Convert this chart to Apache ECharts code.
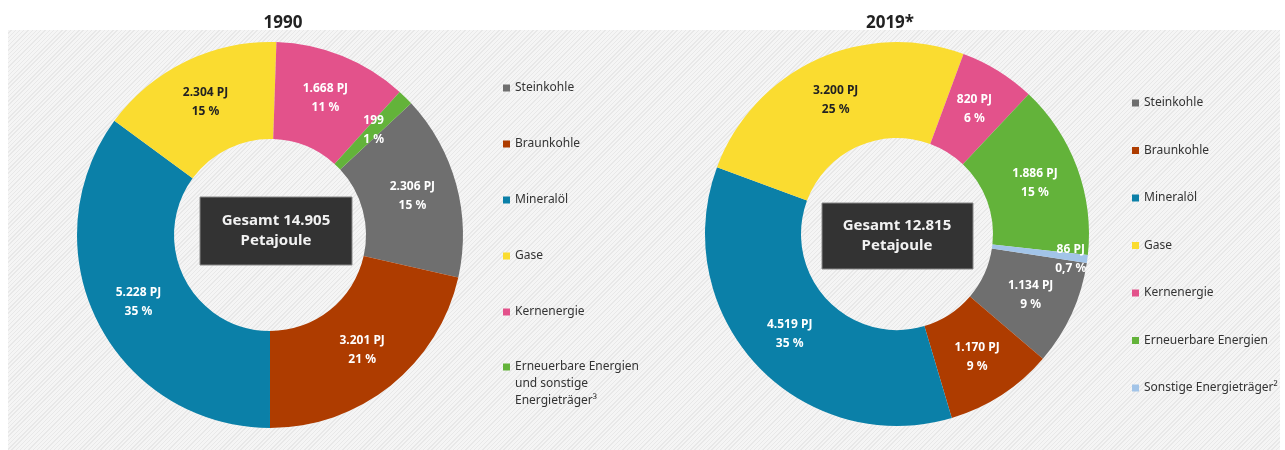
<!DOCTYPE html>
<html>
<head>
<meta charset="utf-8">
<script src="https://cdn.jsdelivr.net/npm/echarts@6/dist/echarts.min.js"></script>
<style>
  html, body { margin: 0; padding: 0; background: #fff; }
  #bg {
    position: absolute; left: 8px; top: 30px; width: 1272px; height: 420px;
    background: repeating-linear-gradient(135deg, #f5f5f5 0px, #f5f5f5 2px, #e8e8e8 2px, #e8e8e8 3px);
  }
  #main { position: absolute; left: 0; top: 0; width: 1285px; height: 450px; }
</style>
</head>
<body>
<div id="bg"></div>
<div id="main"></div>
<script>
// 1990
var names1990 = ["Steinkohle", "Braunkohle", "Mineralöl", "Gase", "Kernenergie",
  "Erneuerbare Energien\nund sonstige\nEnergieträger³"];
var values1990 = [2306, 3201, 5228, 2304, 1668, 199];
var total1990 = "14.905";

// 2019
var names2019 = ["Steinkohle", "Braunkohle", "Mineralöl", "Gase", "Kernenergie",
  "Erneuerbare Energien", "Sonstige Energieträger²"];
var values2019 = [1134, 1170, 4519, 3200, 820, 1886, 86];
var total2019 = "12.815";

var colors = {
  "Steinkohle": "#6f6f6f",
  "Braunkohle": "#ae3c00",
  "Mineralöl": "#0b80a8",
  "Gase": "#fadc30",
  "Kernenergie": "#e3528b",
  "Erneuerbare Energien\nund sonstige\nEnergieträger³": "#63b33a",
  "Erneuerbare Energien": "#63b33a",
  "Sonstige Energieträger²": "#a2c4e8"
};

var font = "'Noto Sans', sans-serif";

function fmtNum(v) {
  return String(v).replace(/\B(?=(\d{3})+(?!\d))/g, ".");
}
function fmtPct(p) {
  if (p < 1) return p.toFixed(1).replace(".", ",") + " %";
  return Math.round(p) + " %";
}

function buildData(names, values, extra) {
  return names.map(function (n, i) {
    var d = {
      name: n,
      value: values[i],
      itemStyle: { color: colors[n] },
      label: { color: n === "Gase" ? "#222" : "#fff" }
    };
    if (extra && extra[i]) Object.assign(d.label, extra[i]);
    return d;
  });
}

function labelFmt(noUnit) {
  return function (p) {
    var unit = noUnit.indexOf(p.dataIndex) >= 0 ? "" : " PJ";
    return fmtNum(p.value) + unit + "\n" + fmtPct(p.percent);
  };
}

var chart = echarts.init(document.getElementById("main"));

var labelBase = {
  show: true,
  position: "inside",
  fontFamily: font,
  fontWeight: "bold",
  fontSize: 12,
  lineHeight: 19
};

var legendBase = {
  orient: "vertical",
  padding: 0,
  itemWidth: 7,
  itemHeight: 7,
  icon: "rect",
  height: 400,
  textStyle: { fontFamily: font, fontSize: 12, color: "#333", lineHeight: 17 },
  selectedMode: false
};

chart.setOption({
  animation: false,
  title: [
    { text: "1990", left: 278, top: 10, textAlign: "center",
      textStyle: { fontFamily: font, fontSize: 17, fontWeight: "bold", color: "#222" } },
    { text: "2019*", left: 885, top: 10, textAlign: "center",
      textStyle: { fontFamily: font, fontSize: 17, fontWeight: "bold", color: "#222" } }
  ],
  legend: [
    Object.assign({}, legendBase, {
      left: 503, top: 79.5, itemGap: 39,
      data: names1990.slice(0, 5)
    }),
    // multi-line entry: two blank lines on top keep the icon beside the first line
    Object.assign({}, legendBase, {
      left: 503, top: 324.5,
      data: names1990.slice(5),
      formatter: function (n) { return "\n\n" + n; }
    }),
    Object.assign({}, legendBase, {
      left: 1132, top: 94.5, itemGap: 30.5,
      data: names2019
    })
  ],
  series: [
    {
      type: "pie",
      center: [270, 235],
      radius: [96, 193],
      startAngle: 43,
      clockwise: true,
      label: Object.assign({}, labelBase, { formatter: labelFmt([5]) }),
      labelLine: { show: false },
      emphasis: { disabled: true },
      data: buildData(names1990, values1990)
    },
    {
      type: "pie",
      center: [897, 234],
      radius: [96, 192],
      startAngle: -8.7,
      clockwise: true,
      label: Object.assign({}, labelBase, { formatter: labelFmt([]) }),
      labelLine: { show: false },
      emphasis: { disabled: true },
      data: buildData(names2019, values2019, { 6: { offset: [28, 6] } })
    }
  ],
  graphic: [
    {
      type: "group",
      children: [
        { type: "rect", shape: { x: 200, y: 197, width: 152, height: 68 },
          style: { fill: "#333", stroke: "#888", lineWidth: 1 } },
        { type: "text", x: 276, y: 231,
          style: { text: "Gesamt " + total1990 + "\nPetajoule", fill: "#f2f2f2",
            font: "bold 15px " + font, align: "center", verticalAlign: "middle", lineHeight: 20 } },
        { type: "rect", shape: { x: 822, y: 203, width: 151, height: 66 },
          style: { fill: "#333", stroke: "#888", lineWidth: 1 } },
        { type: "text", x: 897, y: 236,
          style: { text: "Gesamt " + total2019 + "\nPetajoule", fill: "#f2f2f2",
            font: "bold 15px " + font, align: "center", verticalAlign: "middle", lineHeight: 20 } }
      ]
    }
  ]
});
</script>
</body>
</html>
